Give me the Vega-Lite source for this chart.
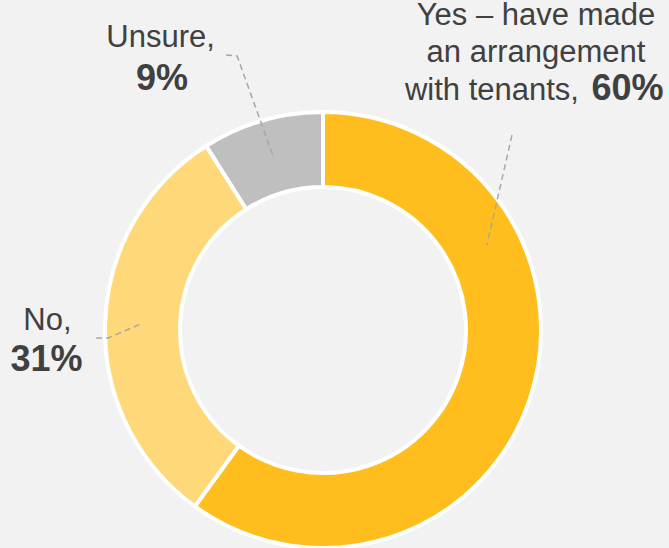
{
  "$schema": "https://vega.github.io/schema/vega-lite/v6.json",
  "width": 646,
  "height": 436,
  "autosize": {"type": "none"},
  "padding": {"left": 0, "top": 112, "right": 23, "bottom": 0},
  "background": "#f2f2f2",
  "config": {"view": {"stroke": null}, "font": "Liberation Sans"},
  "datasets": {
    "slices": [
      {"answer": "Yes – have made an arrangement with tenants", "share": 60, "rank": 1},
      {"answer": "No", "share": 31, "rank": 2},
      {"answer": "Unsure", "share": 9, "rank": 3}
    ],
    "leaders": [
      {"answer": "Yes", "step": 1, "u": 0.867, "v": 0.894},
      {"answer": "Yes", "step": 2, "u": 0.752, "v": 0.390},
      {"answer": "Unsure", "step": 1, "u": -0.445, "v": 1.261},
      {"answer": "Unsure", "step": 2, "u": -0.394, "v": 1.257},
      {"answer": "Unsure", "step": 3, "u": -0.229, "v": 0.798},
      {"answer": "No", "step": 1, "u": -1.041, "v": -0.037},
      {"answer": "No", "step": 2, "u": -0.986, "v": -0.037},
      {"answer": "No", "step": 3, "u": -0.826, "v": 0.032}
    ],
    "names": [
      {"text": "Yes – have made", "u": 0.977, "v": 1.399},
      {"text": "an arrangement", "u": 0.977, "v": 1.229},
      {"text": "with tenants,", "u": 0.775, "v": 1.055},
      {"text": "Unsure,", "u": -0.745, "v": 1.298},
      {"text": "No,", "u": -1.264, "v": 0.0}
    ],
    "percents": [
      {"text": "60%", "u": 1.397, "v": 1.055},
      {"text": "9%", "u": -0.739, "v": 1.101},
      {"text": "31%", "u": -1.268, "v": -0.188}
    ]
  },
  "layer": [
    {
      "data": {"name": "slices"},
      "mark": {"type": "arc", "outerRadius": 218, "innerRadius": 143, "stroke": "white", "strokeWidth": 4},
      "encoding": {
        "theta": {"field": "share", "type": "quantitative", "stack": true},
        "order": {"field": "rank", "type": "quantitative", "sort": "ascending"},
        "color": {
          "field": "answer",
          "type": "nominal",
          "scale": {
            "domain": ["Yes – have made an arrangement with tenants", "No", "Unsure"],
            "range": ["#ffbe1e", "#ffd87a", "#bfbfbf"]
          },
          "legend": null
        }
      }
    },
    {
      "data": {"name": "leaders"},
      "mark": {"type": "line", "color": "#a6a6a6", "strokeWidth": 1.5, "strokeDash": [6, 4]},
      "encoding": {
        "x": {"field": "u", "type": "quantitative", "scale": {"domain": [-1.4817, 1.4817], "nice": false, "zero": false}, "axis": null},
        "y": {"field": "v", "type": "quantitative", "scale": {"domain": [-1, 1], "nice": false, "zero": false}, "axis": null},
        "detail": {"field": "answer"},
        "order": {"field": "step", "type": "quantitative"}
      }
    },
    {
      "data": {"name": "names"},
      "mark": {"type": "text", "fontSize": 31, "color": "#404040", "align": "center", "baseline": "alphabetic"},
      "encoding": {
        "x": {"field": "u", "type": "quantitative", "scale": {"domain": [-1.4817, 1.4817], "nice": false, "zero": false}, "axis": null},
        "y": {"field": "v", "type": "quantitative", "scale": {"domain": [-1, 1], "nice": false, "zero": false}, "axis": null},
        "text": {"field": "text"}
      }
    },
    {
      "data": {"name": "percents"},
      "mark": {"type": "text", "fontSize": 36, "fontWeight": "bold", "color": "#404040", "align": "center", "baseline": "alphabetic"},
      "encoding": {
        "x": {"field": "u", "type": "quantitative", "scale": {"domain": [-1.4817, 1.4817], "nice": false, "zero": false}, "axis": null},
        "y": {"field": "v", "type": "quantitative", "scale": {"domain": [-1, 1], "nice": false, "zero": false}, "axis": null},
        "text": {"field": "text"}
      }
    }
  ]
}
